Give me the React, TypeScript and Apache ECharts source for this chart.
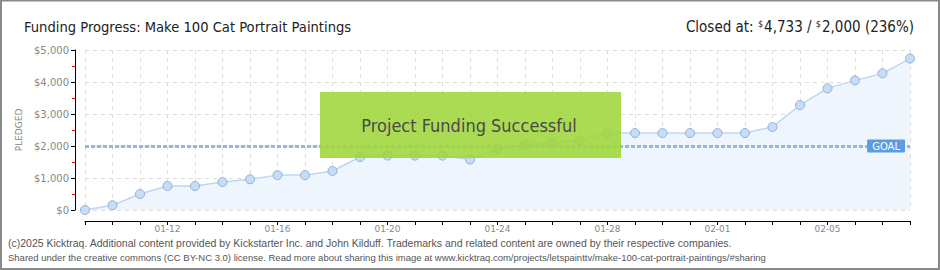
import React, { useEffect, useRef } from 'react';
import * as echarts from 'echarts';

const dates = [
  '01-09', '01-10', '01-11', '01-12', '01-13', '01-14', '01-15', '01-16',
  '01-17', '01-18', '01-19', '01-20', '01-21', '01-22', '01-23', '01-24',
  '01-25', '01-26', '01-27', '01-28', '01-29', '01-30', '01-31', '02-01',
  '02-02', '02-03', '02-04', '02-05', '02-06', '02-07', '02-08',
];
const pledged = [
  0, 150, 500, 750, 750, 875, 960, 1090, 1090, 1220, 1655, 1700, 1700, 1700, 1575, 1905,
  2040, 2090, 2180, 2405, 2405, 2405, 2405, 2405, 2405, 2595, 3280, 3800, 4050, 4270, 4733,
];
const yTickLabels = ['$0', '$1,000', '$2,000', '$3,000', '$4,000', '$5,000'];
const goal = 2000;
const titleText = 'Funding Progress: Make 100 Cat Portrait Paintings';
const closedParts = ['Closed at: ', '4,733', ' / ', '2,000', ' (236%)'];
const successText = 'Project Funding Successful';
const footerLines = [
  '(c)2025 Kicktraq. Additional content provided by Kickstarter Inc. and John Kilduff. Trademarks and related content are owned by their respective companies.',
  'Shared under the creative commons (CC BY-NC 3.0) license. Read more about sharing this image at www.kicktraq.com/projects/letspainttv/make-100-cat-portrait-paintings/#sharing',
];

const titleFont = '"DejaVu Sans Condensed", sans-serif';
const axisFont = '"DejaVu Sans", sans-serif';
const footerFont = '"Liberation Sans", sans-serif';

export default function App() {
  const ref = useRef<HTMLDivElement>(null);
  useEffect(() => {
    document.body.style.margin = '0';
    const chart = echarts.init(ref.current!, null, { renderer: 'svg' });
    chart.setOption({
      animation: false,
      backgroundColor: '#fff',
      title: [
        {
          text: titleText,
          left: 19,
          top: 14,
          textStyle: { fontFamily: titleFont, fontSize: 14.6, fontWeight: 'normal', color: '#222' },
        },
        {
          text:
            closedParts[0] + '{s|$}' + closedParts[1] + closedParts[2] + '{s|$}' + closedParts[3] + closedParts[4],
          right: 21,
          top: 14,
          textStyle: {
            fontFamily: titleFont,
            fontSize: 15,
            fontWeight: 'normal',
            color: '#222',
            rich: {
              s: { fontFamily: titleFont, fontSize: 9, color: '#222', verticalAlign: 'top', padding: [0, 1, 6, 0] },
            },
          },
        },
      ],
      grid: { left: 85, right: 30, top: 50, bottom: 60, containLabel: false },
      xAxis: {
        type: 'category',
        data: dates,
        boundaryGap: false,
        offset: 11,
        axisLine: { onZero: false, lineStyle: { color: '#000', width: 1 } },
        axisTick: { show: true, interval: 0, length: 4, lineStyle: { color: '#000' } },
        axisLabel: {
          interval: (i: number) => i % 4 === 3,
          color: '#888',
          fontFamily: axisFont,
          fontSize: 9,
          margin: 3,
        },
        splitLine: { show: true, interval: 0, lineStyle: { color: '#dddddd', type: [4, 4] } },
      },
      yAxis: {
        type: 'value',
        min: 0,
        max: 5000,
        interval: 1000,
        offset: 10,
        name: 'PLEDGED',
        nameLocation: 'middle',
        nameGap: 50,
        nameRotate: 90,
        nameTextStyle: { color: '#888', fontFamily: axisFont, fontSize: 9 },
        axisLine: { show: true, lineStyle: { color: '#000', width: 1 } },
        axisTick: { show: true, length: 4, lineStyle: { color: '#000' } },
        minorTick: { show: true, splitNumber: 2, length: 3, lineStyle: { color: '#e00' } },
        axisLabel: {
          color: '#888',
          fontFamily: axisFont,
          fontSize: 10,
          margin: 6,
          formatter: (v: number) => yTickLabels[Math.round(v / 1000)],
        },
        splitLine: { show: true, lineStyle: { color: '#dddddd', type: [4, 4] } },
      },
      series: [
        {
          type: 'line',
          data: pledged,
          symbol: 'circle',
          symbolSize: 9,
          lineStyle: { color: '#bcd6f2', width: 1.5 },
          itemStyle: { color: '#c6ddf7', borderColor: '#93afd0', borderWidth: 1 },
          areaStyle: { color: '#eef5fd', opacity: 1 },
          markLine: {
            silent: true,
            symbol: 'none',
            lineStyle: { color: '#8fb8e6', type: [4, 2], width: 3 },
            label: {
              show: true,
              position: 'insideEnd',
              distance: 5,
              formatter: 'GOAL',
              color: '#fff',
              fontFamily: axisFont,
              fontSize: 10,
              backgroundColor: '#5b9be0',
              padding: [2, 5, 1, 5],
              borderRadius: 1,
            },
            data: [{ yAxis: goal }],
          },
          z: 2,
        },
      ],
      graphic: [
        {
          type: 'rect',
          shape: { x: 320, y: 92, width: 301, height: 66 },
          style: { fill: 'rgba(158, 214, 58, 0.88)' },
          z: 100,
        },
        {
          type: 'text',
          x: 469,
          y: 125,
          style: {
            text: successText,
            fontFamily: titleFont,
            fontSize: 18,
            fill: '#4a4a4a',
            align: 'center',
            verticalAlign: 'middle',
            textShadowColor: '#ffffff',
            textShadowOffsetX: 1,
            textShadowOffsetY: 1,
            textShadowBlur: 0,
          },
          z: 101,
        },
        {
          type: 'text',
          x: 8,
          y: 243,
          style: {
            text: footerLines[0],
            fontFamily: footerFont,
            fontSize: 10.5,
            fill: '#555',
            verticalAlign: 'middle',
          },
        },
        {
          type: 'text',
          x: 8,
          y: 257,
          style: {
            text: footerLines[1],
            fontFamily: footerFont,
            fontSize: 9.5,
            fill: '#555',
            verticalAlign: 'middle',
          },
        },
        {
          type: 'rect',
          shape: { x: 1, y: 0.5, width: 938, height: 268.5 },
          style: { fill: 'none', stroke: '#8a8a8a', lineWidth: 2 },
          z: 200,
        },
      ],
    });
    return () => chart.dispose();
  }, []);
  return <div ref={ref} style={{ width: 940, height: 270, position: 'absolute', left: 0, top: 0 }} />;
}
